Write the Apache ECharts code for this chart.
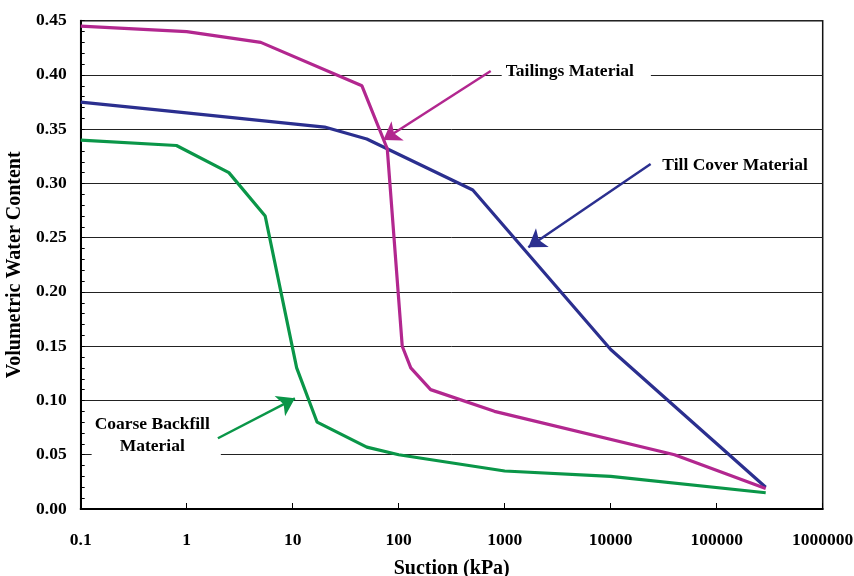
<!DOCTYPE html>
<html>
<head>
<meta charset="utf-8">
<script src="https://cdn.jsdelivr.net/npm/echarts@6/dist/echarts.min.js"></script>
<style>
  html, body { margin: 0; padding: 0; background: #fff; }
  #chart { width: 854px; height: 576px; }
</style>
</head>
<body>
<div id="chart"></div>
<script>
// Soil-water characteristic curves: suction (kPa, log scale) vs volumetric water content
const tailingsSuction = [0.1, 1, 5, 45, 78, 108, 130, 200, 800, 40000, 290000];
const tailingsWater   = [0.445, 0.440, 0.430, 0.390, 0.332, 0.150, 0.130, 0.110, 0.090, 0.050, 0.019];

const tillSuction = [0.1, 0.5, 20, 50, 500, 10000, 290000];
const tillWater   = [0.375, 0.368, 0.352, 0.341, 0.294, 0.147, 0.020];

const coarseSuction = [0.1, 0.8, 2.5, 5.5, 10.9, 17, 50, 100, 1000, 10000, 290000];
const coarseWater   = [0.340, 0.335, 0.310, 0.270, 0.130, 0.080, 0.057, 0.050, 0.035, 0.030, 0.015];

const xTickLabels = ['0.1', '1', '10', '100', '1000', '10000', '100000', '1000000'];
const yTickLabels = ['0.00', '0.05', '0.10', '0.15', '0.20', '0.25', '0.30', '0.35', '0.40', '0.45'];

// Callout arrows: [from, to] in data space
const tailingsArrow = [[738, 0.4037], [71.6, 0.340]];
const tillArrow     = [[23800, 0.318], [1670, 0.2412]];
const coarseArrow   = [[1.97, 0.0652], [10.5, 0.102]];

// Callout texts, anchored in data space
const notes = [
  { text: 'Tailings Material', at: [937, 0.403], align: 'left', bg: true, pad: [3, 17, 3, 4] },
  { text: 'Till Cover Material', at: [30700, 0.3164], align: 'left', bg: false, pad: 0 },
  { text: 'Coarse Backfill\nMaterial', at: [0.516, 0.0673], align: 'center', bg: true, pad: [2, 11, 2, 3] }
];

const MAGENTA = '#B2278F';
const NAVY = '#2B2F8F';
const GREEN = '#0A9648';
const FONT = 'Liberation Serif';

const zip = (xs, ys) => xs.map((x, i) => [x, ys[i]]);

function arrowLine(pts, color) {
  return {
    silent: true,
    animation: false,
    symbol: ['none', 'arrow'],
    symbolSize: 17,
    label: { show: false },
    lineStyle: { color: color, width: 2.5, type: 'solid' },
    emphasis: { disabled: true },
    data: [[{ coord: pts[0] }, { coord: pts[1] }]]
  };
}

function curve(name, xs, ys, color, arrow) {
  return {
    name: name,
    type: 'line',
    data: zip(xs, ys),
    showSymbol: false,
    symbol: 'none',
    lineStyle: { color: color, width: 3.2 },
    itemStyle: { color: color },
    animation: false,
    markLine: arrowLine(arrow, color)
  };
}

const chart = echarts.init(document.getElementById('chart'), null, { renderer: 'canvas' });

chart.setOption({
  backgroundColor: '#fff',
  animation: false,
  grid: {
    left: 80.7, right: 31.3, top: 20.7, bottom: 67,
    outerBoundsMode: 'none',
    containLabel: false,
    show: true, borderColor: '#111', borderWidth: 1.5, backgroundColor: 'transparent'
  },
  xAxis: {
    type: 'log',
    logBase: 10,
    min: 0.1,
    max: 1000000,
    name: 'Suction (kPa)',
    nameLocation: 'middle',
    nameGap: 50,
    nameTextStyle: { fontFamily: FONT, fontWeight: 'bold', fontSize: 20, color: '#000' },
    axisLine: { lineStyle: { color: '#000', width: 2 } },
    axisTick: { inside: true, length: 6, lineStyle: { color: '#000', width: 1 } },
    minorTick: { show: false },
    splitLine: { show: false },
    axisLabel: {
      margin: 22,
      fontFamily: FONT, fontWeight: 'bold', fontSize: 17.5, color: '#000',
      formatter: v => xTickLabels[Math.round(Math.log10(v)) + 1]
    }
  },
  yAxis: {
    type: 'value',
    min: 0,
    max: 0.45,
    interval: 0.05,
    name: 'Volumetric Water Content',
    nameLocation: 'middle',
    nameGap: 49,
    nameTextStyle: { fontFamily: FONT, fontWeight: 'bold', fontSize: 20, color: '#000' },
    axisLine: { show: true, lineStyle: { color: '#000', width: 2 } },
    axisTick: { show: true, inside: true, length: 4, lineStyle: { color: '#000', width: 1 } },
    minorTick: { show: true, splitNumber: 5, length: 4, lineStyle: { color: '#000', width: 1 } },
    splitLine: { show: true, lineStyle: { color: '#222', width: 1 } },
    axisLabel: {
      margin: 14,
      fontFamily: FONT, fontWeight: 'bold', fontSize: 17.5, color: '#000',
      formatter: v => yTickLabels[Math.round(v / 0.05)]
    }
  },
  series: [
    curve('Coarse Backfill Material', coarseSuction, coarseWater, GREEN, coarseArrow),
    curve('Till Cover Material', tillSuction, tillWater, NAVY, tillArrow),
    curve('Tailings Material', tailingsSuction, tailingsWater, MAGENTA, tailingsArrow)
  ]
});

// Callout labels placed through the axes' own scales
const graphics = notes.map(n => {
  const p = chart.convertToPixel({ gridIndex: 0 }, n.at);
  return {
    type: 'text',
    x: p[0],
    y: p[1],
    z: 1,
    silent: true,
    style: {
      text: n.text,
      fontFamily: FONT,
      fontWeight: 'bold',
      fontSize: 17.5,
      lineHeight: 22,
      fill: '#000',
      align: n.align,
      verticalAlign: 'middle',
      backgroundColor: n.bg ? '#fff' : null,
      padding: n.pad
    }
  };
});
chart.setOption({ graphic: graphics });
</script>
</body>
</html>
